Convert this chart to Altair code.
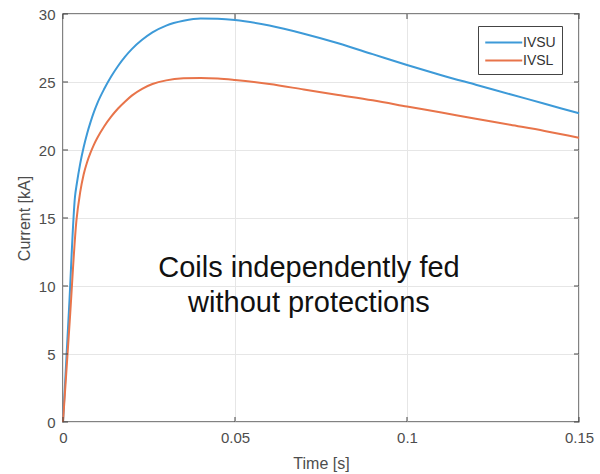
import altair as alt
import pandas as pd

# ---- data ----
TIME_U = [0, 0.00175, 0.0035, 0.004, 0.005, 0.006, 0.007, 0.008, 0.009, 0.010,
          0.012, 0.014, 0.016, 0.018, 0.020, 0.023, 0.026, 0.030, 0.035, 0.040,
          0.045, 0.050, 0.060, 0.070, 0.080, 0.090, 0.100, 0.110, 0.120, 0.130,
          0.140, 0.150]
IVSU = [0, 8.3, 16.6, 17.5, 19.0, 20.2, 21.2, 22.05, 22.8, 23.45,
        24.5, 25.4, 26.18, 26.85, 27.42, 28.1, 28.65, 29.15, 29.5, 29.67,
        29.65, 29.56, 29.15, 28.55, 27.85, 27.05, 26.25,
        25.5, 24.8, 24.1, 23.4, 22.7]
TIME_L = [0, 0.00195, 0.0039, 0.005, 0.006, 0.007, 0.008, 0.009, 0.010, 0.012,
          0.014, 0.016, 0.018, 0.020, 0.023, 0.026, 0.030, 0.035, 0.040,
          0.045, 0.050, 0.060, 0.070, 0.080, 0.090, 0.100, 0.110, 0.120, 0.130,
          0.140, 0.150]
IVSL = [0, 7.4, 14.8, 16.9, 18.2, 19.1, 19.8, 20.4, 20.9, 21.75,
        22.45, 23.05, 23.55, 24.0, 24.5, 24.85, 25.12, 25.27, 25.3,
        25.26, 25.15, 24.85, 24.45, 24.05, 23.65, 23.2,
        22.75, 22.3, 21.85, 21.4, 20.9]
SERIES = ["IVSU", "IVSL"]
COLORS = ["#3d9ad8", "#e8744a"]

X_TICKS = [0, 0.05, 0.1, 0.15]
Y_TICKS = [0, 5, 10, 15, 20, 25, 30]

ANNOT_LINES = ["Coils independently fed", "without protections"]
ANNOT_T = [0.0715, 0.0715]
ANNOT_V = [10.66, 8.09]

FONT = "Liberation Sans"
W, H = 516, 408

rows = []
for name, ts, vals in zip(SERIES, [TIME_U, TIME_L], [IVSU, IVSL]):
    for t, v in zip(ts, vals):
        rows.append({"t": t, "v": v, "series": name})
df = pd.DataFrame(rows)

xs = alt.Scale(domain=[0, 0.15], nice=False)
ys = alt.Scale(domain=[0, 30], nice=False)
xaxis = alt.Axis(title="Time [s]", values=X_TICKS, format=".2~f", labelFlush=False,
                 grid=True, ticks=False, domain=False,
                 labelPadding=8, titleY=46, titleBaseline="alphabetic")
yaxis = alt.Axis(title="Current [kA]", values=Y_TICKS, labelFlush=False,
                 grid=True, ticks=False, domain=False,
                 labelPadding=8, titleX=-39, titleBaseline="middle")
X = alt.X("t:Q", scale=xs, axis=xaxis, title="Time [s]")
Y = alt.Y("v:Q", scale=ys, axis=yaxis, title="Current [kA]")

lines = alt.Chart(df).mark_line(strokeWidth=2, interpolate="monotone").encode(
    x=X, y=Y,
    color=alt.Color("series:N", sort=SERIES,
                    scale=alt.Scale(domain=SERIES, range=COLORS),
                    legend=alt.Legend(title=None, orient="none", legendX=415, legendY=12,
                                      strokeColor="#444444", fillColor="white",
                                      padding=6, symbolType="M-1,0H3", symbolSize=342,
                                      symbolStrokeWidth=2, labelFontSize=14,
                                      labelColor="#333333", rowPadding=0, labelOffset=18)),
)

ydf = pd.DataFrame({"v": Y_TICKS})
xdf = pd.DataFrame({"t": X_TICKS})
tick_style = dict(color="#444444", strokeWidth=1)
lt = alt.Chart(ydf).mark_rule(**tick_style).encode(y=Y, x=alt.value(0), x2=alt.value(5))
rt = alt.Chart(ydf).mark_rule(**tick_style).encode(y=Y, x=alt.value(W), x2=alt.value(W - 5))
bt = alt.Chart(xdf).mark_rule(**tick_style).encode(x=X, y=alt.value(H), y2=alt.value(H - 5))
tt = alt.Chart(xdf).mark_rule(**tick_style).encode(x=X, y=alt.value(0), y2=alt.value(5))

adf = pd.DataFrame({"t": ANNOT_T, "v": ANNOT_V, "label": ANNOT_LINES})
annot = alt.Chart(adf).mark_text(font=FONT, fontSize=29, color="#111111",
                                 align="center", baseline="alphabetic").encode(
    x=X, y=Y, text="label:N",
)

chart = alt.layer(lines, lt, rt, bt, tt, annot).properties(
    width=W, height=H,
    autosize=alt.AutoSizeParams(type="none"),
    padding={"left": 63, "top": 14, "right": 21, "bottom": 52},
).configure_view(
    stroke="#5a5a5a", strokeWidth=1.5
).configure_axis(
    labelFont=FONT, titleFont=FONT, labelFontSize=15, titleFontSize=16,
    labelColor="#4d4d4d", titleColor="#4d4d4d", titleFontWeight="normal",
    gridColor="#e6e6e6", gridWidth=1,
).configure_legend(
    labelFont=FONT
)

chart.save("out.html", embed_options={"renderer": "svg", "actions": False})
